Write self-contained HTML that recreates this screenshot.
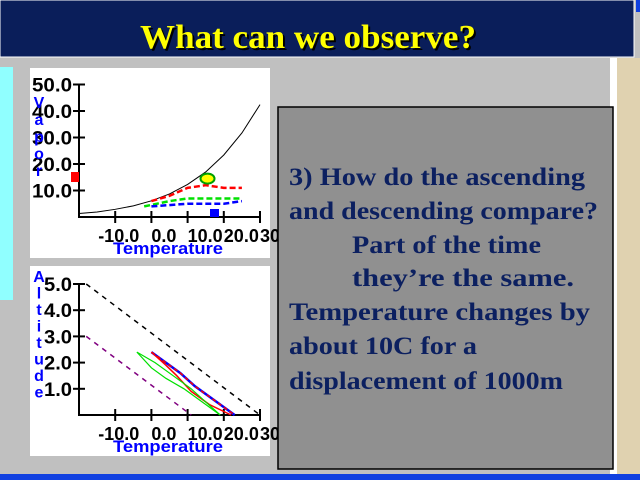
<!DOCTYPE html>
<html><head><meta charset="utf-8"><style>
html,body{margin:0;padding:0;width:640px;height:480px;overflow:hidden;background:#c0c0c0}
svg{display:block}
</style></head><body>
<svg width="640" height="480" viewBox="0 0 640 480" xmlns="http://www.w3.org/2000/svg" font-family="Liberation Sans, sans-serif">
<rect x="0" y="0" width="640" height="480" fill="#c0c0c0"/>
<rect x="617" y="58" width="23" height="416" fill="#e0d2b0"/>
<rect x="610" y="58" width="7" height="416" fill="#ffffff"/>
<rect x="636" y="0" width="4" height="12" fill="#1040e0"/>
<rect x="0" y="0" width="634" height="57" fill="#0a1e5a" stroke="#ffffff" stroke-width="1"/>
<text x="142" y="50" textLength="336" lengthAdjust="spacingAndGlyphs" font-family="Liberation Serif, serif" font-weight="bold" font-size="34" fill="#000">What can we observe?</text>
<text x="140" y="48" textLength="336" lengthAdjust="spacingAndGlyphs" font-family="Liberation Serif, serif" font-weight="bold" font-size="34" fill="#ffff00">What can we observe?</text>
<rect x="0" y="67" width="13" height="233" fill="#90ffff"/>
<rect x="0" y="474" width="640" height="6" fill="#1040e0"/>

<g id="topChart"><rect x="30" y="68" width="240" height="190" fill="#fff"/></g>
<g id="botChart"><rect x="30" y="266" width="240" height="190" fill="#fff"/></g>

<rect x="278" y="107" width="335" height="362" fill="#909090" stroke="#000" stroke-width="1.5"/>
<g font-family="Liberation Serif, serif" font-weight="bold" font-size="25" fill="#0c2060">
<text x="289" y="185" textLength="296" lengthAdjust="spacingAndGlyphs">3) How do the ascending</text>
<text x="289" y="219" textLength="309" lengthAdjust="spacingAndGlyphs">and descending compare?</text>
<text x="352" y="253" textLength="189" lengthAdjust="spacingAndGlyphs">Part of the time</text>
<text x="352" y="286" textLength="222" lengthAdjust="spacingAndGlyphs">they’re the same.</text>
<text x="289" y="320" textLength="301" lengthAdjust="spacingAndGlyphs">Temperature changes by</text>
<text x="289" y="354" textLength="188" lengthAdjust="spacingAndGlyphs">about 10C for a</text>
<text x="289" y="389" textLength="274" lengthAdjust="spacingAndGlyphs">displacement of 1000m</text>
</g>
</svg>
<script>
const NS='http://www.w3.org/2000/svg';
const xTicks=[-10,0,10,20,30];
const xTickLabels=['-10.0','0.0','10.0','20.0','30.'];
const vaporTicks=[10,20,30,40,50];
const altTicks=[1,2,3,4,5];
const satTemps=[-20,-15,-10,-5,0,5,10,15,20,25,30];
const satVapor=[1.3,1.9,2.9,4.2,6.1,8.7,12.3,17.0,23.4,31.7,42.4];
const redTemps=[0,5,10,15,20,25];
const redVapor=[6,8,11,12,11,11];
const greenTemps=[-2,5,10,15,20,25];
const greenVapor=[4,6,7,7,7,7];
const blueTemps=[0,10,20,25];
const blueVapor=[4,5,5,6];
const dryTemps=[-18,30];const dryAlt=[5,0];
const moistTemps=[-18,11];const moistAlt=[3,0];
const ascTemps=[0,3,8,12,18,23];const ascAlt=[2.4,2.1,1.6,1.1,0.5,0];
const ascTemps2=[0,4,7,11,16,22];const ascAlt2=[2.4,1.9,1.5,0.9,0.4,0];
const descTemps=[-4,0,4,9,14,19];const descAlt=[2.4,1.8,1.4,1.0,0.5,0];
const descTemps2=[-4,1,6,11,15,19];const descAlt2=[2.4,2.0,1.5,1.0,0.5,0];

function mk(t,a,p){const e=document.createElementNS(NS,t);for(const k in a)e.setAttribute(k,a[k]);p.appendChild(e);return e;}
function chart(g,oy,ymax,yppu,yTicks,fmt,ylabel,labW,titleY0,titleStep){
  const X=v=>79+(v+20)*(181/50);
  const Y=v=>oy-v*yppu;
  const ax=mk('path',{d:`M79 ${Y(ymax)} V${oy} H${X(30)}`,stroke:'#000','stroke-width':2,fill:'none'},g);
  
  
  yTicks.forEach(v=>{mk('line',{x1:73,x2:85,y1:Y(v),y2:Y(v),stroke:'#000','stroke-width':2},g);
    const t=mk('text',{x:72,y:Y(v)+7,'text-anchor':'end','font-weight':'bold','font-size':19,fill:'#000','textLength':labW,'lengthAdjust':'spacingAndGlyphs'},g);t.textContent=fmt(v);
    
    });
  xTicks.forEach((v,i)=>{mk('line',{x1:X(v),x2:X(v),y1:oy-6,y2:oy+6,stroke:'#000','stroke-width':2},g);
    const t=mk('text',{x:X(v)-(i==0?17:0),y:oy+25,'text-anchor':'start','font-weight':'bold','font-size':18,fill:'#000'},g);t.textContent=xTickLabels[i];
    
    });
  const xt=mk('text',{x:113,y:oy+37,'font-weight':'bold','font-size':17,fill:'#0000ff','textLength':110,'lengthAdjust':'spacingAndGlyphs'},g);xt.textContent='Temperature';
  
  
  const yl=mk('text',{x:39,'font-weight':'bold','font-size':16,fill:'#0000ff','text-anchor':'middle'},g);
  
  
  [...ylabel].forEach((c,i)=>{const s=mk('tspan',{x:39,y:titleY0+i*titleStep},yl);s.textContent=c;});
  return {X,Y};
}
function line(g,A,xs,ys,col,w,dash,name){
  const pts=xs.map((v,i)=>A.X(v)+','+A.Y(ys[i])).join(' ');
  const p=mk('polyline',{points:pts,fill:'none',stroke:col,'stroke-width':w},g);
  if(dash)p.setAttribute('stroke-dasharray',dash);
  
  
}
const gTop=document.getElementById('topChart'),gBot=document.getElementById('botChart');
const A=chart(gTop,217,50,2.65,vaporTicks,v=>v.toFixed(1),'Vapor',40,108,17);
line(gTop,A,satTemps,satVapor,'#000',1,null,'saturation-curve');
line(gTop,A,redTemps,redVapor,'#ff0000',2.5,'6 3','red-series');
line(gTop,A,greenTemps,greenVapor,'#00e000',2.5,'6 3','green-series');
line(gTop,A,blueTemps,blueVapor,'#0000ff',2.5,'6 3','blue-series');
const bub=mk('ellipse',{cx:A.X(15.5),cy:A.Y(14.5),rx:7,ry:5,fill:'#ffff00',stroke:'#00a000','stroke-width':2},gTop);


const rs=mk('rect',{x:71,y:172,width:8,height:10,fill:'#ff0000'},gTop);


const bs=mk('rect',{x:210,y:209,width:9,height:8,fill:'#0000ff'},gTop);


const B=chart(gBot,415,5,26.2,altTicks,v=>v.toFixed(1),'Altitude',28,282,16.5);
line(gBot,B,dryTemps,dryAlt,'#000',1.5,'5 5','dry-adiabat');
line(gBot,B,moistTemps,moistAlt,'#800080',1.5,'5 5','moist-adiabat');
line(gBot,B,ascTemps,ascAlt,'#0000ff',2.5,null,'ascending-blue');
line(gBot,B,ascTemps,ascAlt,'#ff0000',1.5,'4 3','ascending-red');
line(gBot,B,ascTemps2,ascAlt2,'#ff0000',1.5,null,'ascending-red-2');
line(gBot,B,descTemps,descAlt,'#00e000',1.2,null,'descending-green');
line(gBot,B,descTemps2,descAlt2,'#00e000',1.2,null,'descending-green-2');
</script>
</body></html>
